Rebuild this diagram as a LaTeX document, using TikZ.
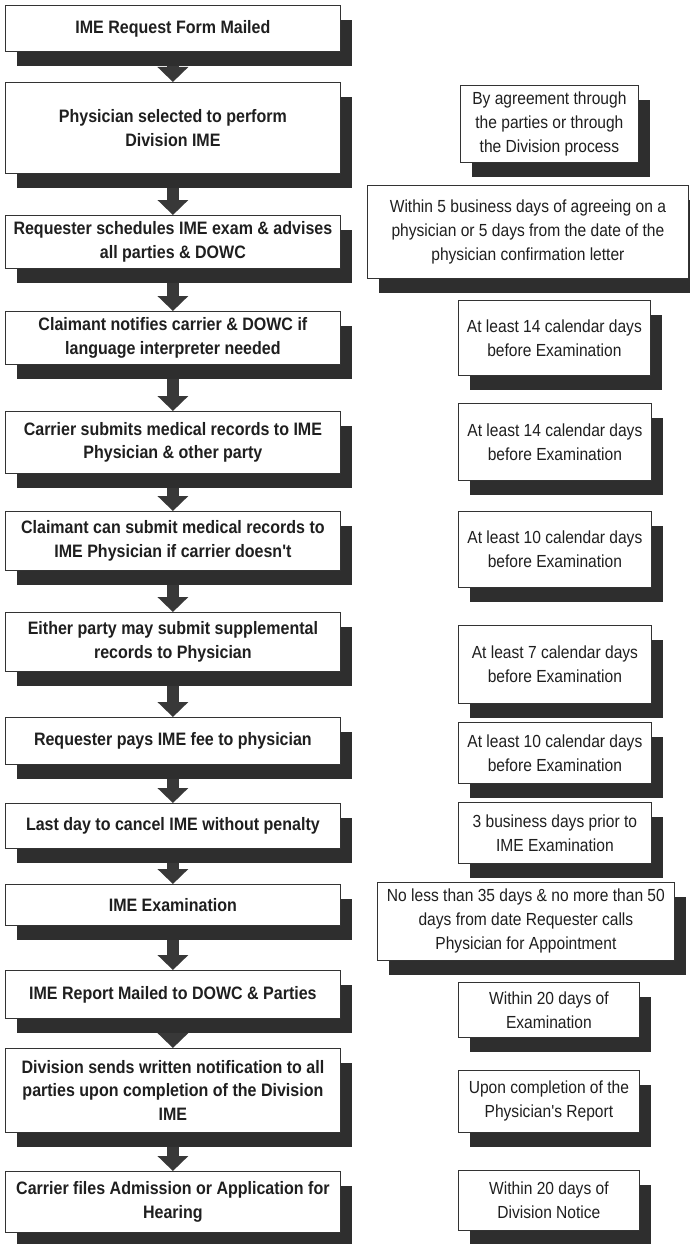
\documentclass[tikz,border=0pt]{standalone}
\usepackage{fontspec}
\setmainfont{Liberation Sans}
\newfontfamily\cf[FakeStretch=0.89]{Liberation Sans}
\usetikzlibrary{shadows,arrows.meta}
\tikzset{
  basebox/.style={draw=black!80, line width=0.8pt, fill=white, inner sep=2pt,
    align=center, anchor=north west, text=black!88,
    drop shadow={shadow xshift=12pt, shadow yshift=-15pt, fill=black!82, opacity=1}},
  lbox/.style={basebox, font=\cf\bfseries\fontsize{18}{23.5}\selectfont},
  rbox/.style={basebox, font=\cf\fontsize{17.5}{24}\selectfont},
  flowarrow/.style={draw=black!78, line width=12pt, -{Triangle[width=30pt,length=15pt]}}
}
\begin{document}
\begin{tikzpicture}[x=1pt,y=1pt]
\useasboundingbox (0,0) rectangle (690,-1244);
% left column
\node[lbox, minimum width=335pt, minimum height=46pt] (b1) at (5,-5) {IME Request Form Mailed};
\node[lbox, minimum width=335pt, minimum height=91pt] (b2) at (5,-82) {Physician selected to perform\\Division IME};
\node[lbox, minimum width=335pt, minimum height=53pt] (b3) at (5,-215) {Requester schedules IME exam \& advises\\all parties \& DOWC};
\node[lbox, minimum width=335pt, minimum height=53pt] (b4) at (5,-311) {Claimant notifies carrier \& DOWC if\\language interpreter needed};
\node[lbox, minimum width=335pt, minimum height=62pt] (b5) at (5,-411) {Carrier submits medical records to IME\\Physician \& other party};
\node[lbox, minimum width=335pt, minimum height=59pt] (b6) at (5,-511) {Claimant can submit medical records to\\IME Physician if carrier doesn't};
\node[lbox, minimum width=335pt, minimum height=59pt] (b7) at (5,-612) {Either party may submit supplemental\\records to Physician};
\node[lbox, minimum width=335pt, minimum height=47pt] (b8) at (5,-717) {Requester pays IME fee to physician};
\node[lbox, minimum width=335pt, minimum height=45pt] (b9) at (5,-803) {Last day to cancel IME without penalty};
\node[lbox, minimum width=335pt, minimum height=41pt] (b10) at (5,-884) {IME Examination};
\node[lbox, minimum width=335pt, minimum height=48pt] (b11) at (5,-970) {IME Report Mailed to DOWC \& Parties};
\node[lbox, minimum width=335pt, minimum height=84pt] (b12) at (5,-1048) {Division sends written notification to all\\parties upon completion of the Division\\IME};
\node[lbox, minimum width=335pt, minimum height=61pt] (b13) at (5,-1171) {Carrier files Admission or Application for\\Hearing};
% arrows
\foreach \a/\b in {b1/b2,b2/b3,b3/b4,b4/b5,b5/b6,b6/b7,b7/b8,b8/b9,b9/b10,b10/b11,b11/b12,b12/b13}
  \draw[flowarrow] ([yshift=-14pt]\a.south) -- (\b.north);
% right column
\node[rbox, minimum width=178pt, minimum height=77pt] (r1) at (460,-85) {By agreement through\\the parties or through\\the Division process};
\node[rbox, minimum width=321pt, minimum height=93pt] (r2) at (367,-185) {Within 5 business days of agreeing on a\\physician or 5 days from the date of the\\physician confirmation letter};
\node[rbox, minimum width=192pt, minimum height=75pt] (r3) at (458,-300) {At least 14 calendar days\\before Examination};
\node[rbox, minimum width=193pt, minimum height=77pt] (r4) at (458,-403) {At least 14 calendar days\\before Examination};
\node[rbox, minimum width=193pt, minimum height=76pt] (r5) at (458,-511) {At least 10 calendar days\\before Examination};
\node[rbox, minimum width=193pt, minimum height=78pt] (r6) at (458,-625) {At least 7 calendar days\\before Examination};
\node[rbox, minimum width=193pt, minimum height=61pt] (r7) at (458,-722) {At least 10 calendar days\\before Examination};
\node[rbox, minimum width=193pt, minimum height=61pt] (r8) at (458,-802) {3 business days prior to\\IME Examination};
\node[rbox, minimum width=297pt, minimum height=78pt] (r9) at (377,-882) {No less than 35 days \& no more than 50\\days from date Requester calls\\Physician for Appointment};
\node[rbox, minimum width=181pt, minimum height=55pt] (r10) at (458,-982) {Within 20 days of\\Examination};
\node[rbox, minimum width=181pt, minimum height=62pt] (r11) at (458,-1070) {Upon completion of the\\Physician's Report};
\node[rbox, minimum width=181pt, minimum height=60pt] (r12) at (458,-1170) {Within 20 days of\\Division Notice};
\end{tikzpicture}
\end{document}
